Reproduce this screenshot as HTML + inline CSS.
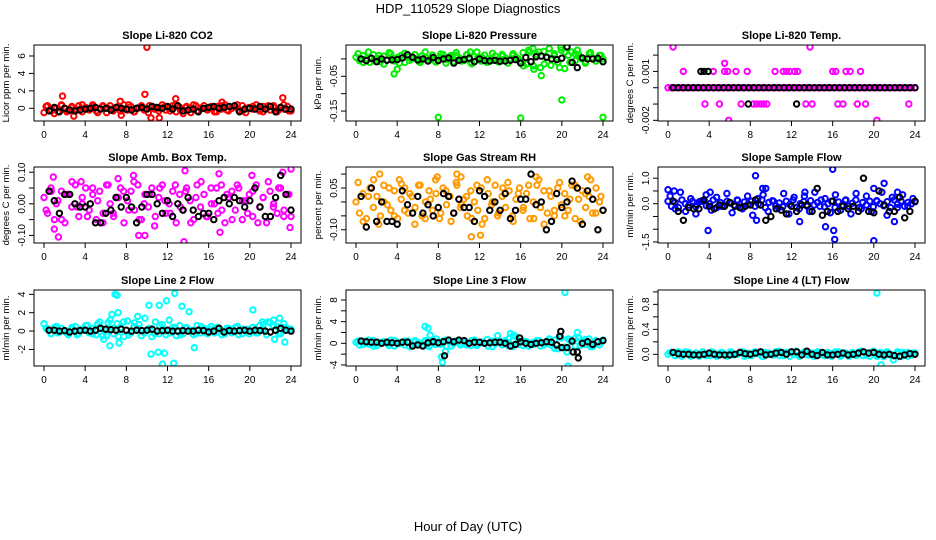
<!DOCTYPE html>
<html><head><meta charset="utf-8">
<style>
html,body{margin:0;padding:0;background:#fff;}
svg{display:block;font-family:"Liberation Sans",sans-serif;}
</style></head>
<body>
<svg id="chart" width="936" height="540" viewBox="0 0 936 540">
<text x="468" y="13" text-anchor="middle" font-size="13">HDP_110529  Slope Diagnostics</text>
<text x="468" y="531" text-anchor="middle" font-size="13">Hour of Day (UTC)</text>
</svg>
<script>
const xTicks = [0,4,8,12,16,20,24];

const co2Main = [-0.5,0.3,-0.2,0.1,-0.4,0.4,0.0,-0.3,0.2,-0.1,0.3,-0.4,0.1,-0.2,0.4,-0.3,0.0,0.2,-0.5,0.3,-0.1,0.1,-0.3,0.4,-0.2,0.2,-0.4,0.0,0.3,-0.1,-0.5,0.2,0.1,-0.3,0.4,-0.2,0.0,0.3,-0.4,0.1,-0.6,0.2,-0.1,0.4,-0.3,0.0,0.3,-0.2,0.1,-0.4,0.2,-0.1,0.4,-0.3,0.0,0.2,-0.2,0.3,-0.5,0.1,-0.1,0.4,-0.3,0.2,0.0,-0.2,0.3,-0.4,0.1,-0.1,0.2,-0.3];
const co2Main2 = [0.2,-0.3,0.0,0.3,-0.4,0.1,-0.2,0.4,-0.1,0.2,-0.5,0.3,0.0,-0.3,0.2,-0.1,0.4,-0.4,0.1,-0.2,0.3,-0.1,0.0,0.2,-0.3,0.4,-0.2,0.1,-0.5,0.3,0.0,-0.1,0.2,-0.4,0.3,-0.2,0.1,0.4,-0.3,0.0,0.2,-0.1,-0.4,0.3,0.1,-0.2,0.4,-0.3];
const co2Black = [-0.3,0.1,-0.4,0.0,-0.2,-0.3,-0.2,-0.1,0.0,0.1,-0.1,0.0,-0.2,0.1,0.0,-0.1,-0.2,0.0,0.1,-0.1,0.2,0.1,0.0,0.2,-0.1,0.3,-0.3,-0.2,-0.1,-0.4,0.0,0.1,0.2,0.0,0.1,0.2,0.3,-0.4,-0.1,0.0,-0.1,0.2,-0.1,0.2,-0.4,0.1,-0.1,-0.1];
const co2Out = [[10,7],[9.8,1.6],[1.8,1.4],[12.8,1.1],[23.2,1.2],[10.4,-1.1],[11.2,-1.1],[2.9,-0.9],[7.5,-0.8],[7.4,0.8],[17.3,0.7],[1,-0.6]];

const presMain = [0.005,-0.005,0.01,0.0,-0.01,0.012,0.002,-0.008,0.008,-0.003,0.014,-0.006,0.004,0.01,-0.01,0.006,0.0,0.012,-0.007,0.009,0.003,-0.004,0.011,-0.009,0.005,0.013,-0.002,0.007,-0.008,0.01,0.001,-0.005,0.012,-0.01,0.006,0.003,-0.006,0.011,0.0,-0.004,0.008,-0.009,0.013,0.002,-0.003,0.01,0.005,-0.007,0.018,-0.015,0.02,-0.02,0.012,-0.025,0.022,0.005,-0.018,0.015,-0.01,0.025,-0.028,0.01,0.02,-0.005,0.012,0.0,-0.008,0.015,0.003,-0.006,0.01,0.0];
const presMain2 = [0.015,-0.01,0.02,-0.005,0.01,-0.015,0.018,0.0,-0.012,0.016,-0.004,0.012,-0.01,0.02,0.002,-0.008,0.014,-0.012,0.01,0.018,-0.006,0.012,-0.014,0.02,0.004,-0.01,0.016,-0.003,0.008,-0.012,0.015,0.0,-0.02,0.025,-0.03,0.02,-0.015,0.03,0.01,-0.025,0.02,-0.01,0.015,0.005,-0.012,0.018,-0.006,0.01];
const presBlack = [0.0,-0.005,0.002,-0.008,0.0,-0.004,-0.003,-0.002,0.003,0.012,0.005,-0.003,0.0,-0.006,0.004,-0.005,0.0,0.003,-0.012,-0.004,-0.002,0.002,-0.008,0.0,-0.005,-0.006,-0.004,-0.007,-0.006,-0.004,-0.002,-0.012,0.004,-0.008,0.006,0.008,0.005,0.0,-0.002,0.002,0.035,-0.01,-0.025,0.003,0.0,0.0,0.002,-0.008];
const presOut = [[8,-0.168],[16,-0.17],[24,-0.168],[20,-0.118],[18,-0.048],[3.7,-0.043],[4,-0.03],[17.2,0.03],[19.9,0.033],[20.5,0.033],[11.1,0.02],[21.5,0.025]];

const tempMain = [0,0,0,0,0,0,0,0,0,0,0,0,0,0,0,0,0,0,0,0,0,0,0,0,0,0,0,0,0,0,0,0,0,0,0,0,0,0,0,0,0,0,0,0,0,0,0,0,0,0,0,0,0,0,0,0,0,0,0,0,0,0,0,0,0,0,0,0,0,0,0,0];
const tempBlack = [0,0,0,0,0,0,0,0,0,0,0,0,0,0,0,0,0,0,0,0,0,0,0,0,0,0,0,0,0,0,0,0,0,0,0,0,0,0,0,0,0,0,0,0,0,0,0,0,0];
const tempOut = [[1.5,0.001],[4.4,0.001],[5.5,0.001],[5.8,0.001],[6.6,0.001],[7.7,0.001],[10.4,0.001],[11.2,0.001],[11.5,0.001],[11.8,0.001],[12.3,0.001],[12.6,0.001],[16,0.001],[16.3,0.001],[17.3,0.001],[17.7,0.001],[18.7,0.001],[5.5,0.0015],[0.5,0.0025],[13.8,0.0025],[3.6,-0.001],[5,-0.001],[7.1,-0.001],[8.3,-0.001],[8.6,-0.001],[9,-0.001],[9.3,-0.001],[9.6,-0.001],[13.4,-0.001],[14,-0.001],[16.5,-0.001],[17,-0.001],[18.4,-0.001],[19.2,-0.001],[23.4,-0.001],[5.9,-0.002],[20.3,-0.002]];
const tempBlackOut = [[3.2,0.001],[3.5,0.001],[3.9,0.001],[7.8,-0.001],[12.5,-0.001]];

const boxMain = [0.02,-0.03,0.05,-0.05,0.01,0.04,-0.06,0.03,-0.01,0.06,-0.04,0.0,0.05,-0.02,0.03,-0.05,0.04,-0.03,0.06,0.0,-0.04,0.02,0.05,-0.06,0.01,0.04,-0.02,0.06,-0.05,0.03,-0.01,0.05,-0.04,0.02,0.06,-0.03,0.0,0.04,-0.06,0.03,-0.02,0.05,0.01,-0.05,0.06,-0.01,0.03,-0.04,0.05,0.0,-0.03,0.06,-0.06,0.02,0.04,-0.02,0.05,-0.05,0.01,0.03,-0.04,0.06,-0.01,0.02,-0.06,0.04,0.0,-0.03,0.05,-0.02,0.03,-0.04];
const boxMain2 = [-0.02,0.04,0.0,-0.05,0.03,0.07,-0.01,0.02,-0.04,0.05,0.01,-0.06,0.06,-0.03,0.02,0.04,-0.02,0.07,-0.05,0.0,0.03,-0.07,0.05,0.01,-0.03,0.06,-0.01,0.04,-0.06,0.02,0.07,-0.04,0.0,0.05,-0.02,0.03,-0.05,0.06,0.01,-0.03,0.04,-0.06,0.02,0.07,-0.01,0.05,-0.04,0.03];
const boxBlack = [0.04,0.01,-0.03,0.03,0.03,0.0,-0.01,-0.01,0.0,-0.06,-0.06,-0.03,-0.02,0.02,-0.01,0.02,-0.01,-0.06,-0.01,0.03,0.03,0.0,-0.03,0.01,-0.04,0.0,-0.02,0.02,-0.02,-0.04,-0.03,-0.03,-0.05,0.01,0.02,0.0,0.02,0.01,-0.01,0.01,0.05,-0.01,-0.04,-0.04,0.02,0.09,0.03,-0.02];
const boxOut = [[0.9,0.085],[1,-0.08],[1.4,-0.105],[9.2,-0.1],[9.8,-0.1],[8.7,0.09],[13.7,0.105],[13.6,-0.12],[17,0.095],[17.1,-0.09],[24,0.11],[23.9,-0.075],[20.2,0.09],[23.2,0.1],[3.6,0.07],[7.2,0.08]];

const rhMain = [0.0,-0.04,0.03,-0.06,0.05,-0.02,0.02,-0.05,0.06,-0.01,-0.03,0.04,-0.06,0.01,0.05,-0.04,0.02,-0.02,0.06,-0.05,0.0,0.04,-0.03,0.03,-0.06,0.05,-0.01,0.02,-0.04,0.06,-0.02,0.01,-0.05,0.04,0.0,-0.03,0.05,-0.06,0.03,-0.01,0.06,-0.04,0.02,-0.02,0.04,-0.05,0.01,0.05,-0.03,0.03,-0.06,0.0,0.06,-0.02,0.04,-0.04,0.02,-0.05,0.05,-0.01,0.03,-0.03,0.06,-0.06,0.01,0.04,-0.02,0.02,-0.04,0.05,0.0,-0.03];
const rhMain2 = [0.07,-0.07,0.02,0.08,-0.08,0.0,0.05,-0.05,0.08,-0.03,0.03,-0.08,0.06,-0.06,0.01,0.08,-0.04,0.04,-0.07,0.07,-0.01,0.02,-0.06,0.06,-0.08,0.08,0.0,-0.05,0.05,0.07,-0.07,0.03,-0.02,0.06,-0.06,0.08,-0.08,0.04,-0.03,0.07,-0.05,0.01,0.06,-0.07,0.03,0.08,-0.04,0.02];
const rhBlack = [0.02,-0.09,0.05,-0.07,0.0,-0.07,-0.07,-0.08,0.04,-0.01,-0.04,0.02,-0.04,-0.01,-0.05,-0.02,0.03,0.02,-0.04,0.01,-0.02,-0.02,-0.07,0.04,0.02,-0.03,0.0,-0.03,0.03,-0.06,-0.03,0.01,0.01,0.1,-0.01,0.0,-0.1,-0.07,0.03,-0.02,0.0,0.075,0.05,-0.08,0.04,0.01,-0.1,-0.03];
const rhOut = [[2.3,0.1],[12.1,-0.12],[11.2,-0.125],[17.5,0.09],[22.5,0.09],[10.2,0.09],[9.8,0.1],[4.4,0.065],[7.9,0.09]];

const flowMain = [0.1,-0.1,0.05,-0.15,0.15,0.0,-0.05,0.1,-0.12,0.08,0.12,-0.08,0.0,0.15,-0.15,0.05,-0.1,0.1,0.02,-0.05,0.13,-0.13,0.07,-0.02,0.1,-0.1,0.0,0.15,-0.15,0.05,0.12,-0.08,0.03,-0.12,0.1,-0.03,0.15,-0.15,0.0,0.08,-0.1,0.12,-0.05,0.05,0.15,-0.12,0.0,0.1,-0.15,0.07,-0.07,0.13,-0.1,0.02,0.15,-0.15,0.05,-0.05,0.1,-0.12,0.12,0.0,-0.08,0.08,-0.15,0.15,-0.02,0.1,-0.1,0.05,0.0,0.08];
const flowMain2 = [0.3,-0.2,0.45,-0.3,0.2,-0.4,0.1,0.35,-0.25,0.25,-0.1,0.4,-0.35,0.15,-0.2,0.3,-0.45,0.2,0.35,-0.3,0.1,-0.15,0.4,-0.4,0.25,-0.2,0.3,-0.3,0.45,-0.1,0.2,-0.35,0.35,-0.25,0.15,-0.4,0.4,-0.2,0.3,-0.3,0.1,0.45,-0.45,0.25,-0.15,0.35,-0.1,0.2];
const flowBlack = [0.1,-0.3,-0.65,-0.15,-0.2,-0.2,0.15,-0.1,-0.2,-0.05,-0.1,0.05,-0.1,-0.15,-0.1,-0.05,0.15,-0.05,-0.65,-0.5,-0.2,-0.25,-0.4,-0.1,-0.3,-0.05,-0.05,-0.3,0.6,-0.45,-0.3,0.1,-0.3,-0.1,-0.2,-0.1,-0.3,1.0,-0.3,-0.35,0.5,-0.05,-0.3,-0.3,0.25,-0.55,-0.3,0.1];
const flowOut = [[8.5,1.1],[16,1.35],[21,0.8],[20,0.6],[3.9,-1.05],[16.2,-1.4],[16.1,-1.05],[20,-1.45],[15.3,-0.9],[12.8,-0.7],[8.6,-0.65],[22.3,0.45],[9.5,0.6],[22,-0.7],[0,0.55],[0.6,0.5],[4.1,0.45],[9.2,0.6],[13.3,0.45]];

const line2Main = [0.8,0.2,-0.3,0.4,-0.2,0.3,0.0,-0.4,0.2,0.5,-0.3,0.1,0.6,-0.2,0.3,-0.4,1.0,0.2,-0.5,1.2,-0.3,0.8,0.4,-0.6,1.1,-0.2,0.9,0.3,-0.5,1.4,0.2,-0.6,1.0,-0.3,0.7,-0.4,1.2,0.4,-0.5,0.6,-0.3,0.4,0.1,-0.4,0.6,-0.2,0.3,-0.3,0.5,-0.2,0.4,0.0,-0.3,0.3,-0.2,0.4,-0.4,0.2,0.1,-0.3,0.4,-0.2,0.6,0.2,-0.4,0.9,1.2,0.5,-0.3,0.8,0.3,0.2];
const line2Main2 = [0.3,-0.3,0.5,0.0,-0.2,0.4,-0.4,0.2,0.6,-0.3,0.8,-0.5,0.9,0.3,-0.6,1.0,-0.4,0.5,0.7,-0.2,0.3,-0.3,0.6,0.0,-0.2,0.4,-0.4,0.3,0.1,-0.3,0.5,-0.2,0.2,0.4,-0.4,0.3,-0.1,0.5,-0.3,0.2,0.4,-0.2,0.7,1.0,0.6,-0.3,0.4,0.2];
const line2Black = [0.1,0.1,0.0,0.05,-0.1,0.0,0.05,0.1,0.0,0.1,0.3,0.2,0.15,0.1,0.2,0.1,0.0,0.1,0.05,0.1,0.2,0.0,0.05,0.1,0.0,0.0,0.05,0.0,0.0,0.1,0.05,-0.1,0.0,0.3,-0.1,0.05,0.0,0.05,0.1,0.0,0.1,0.05,0.0,-0.1,0.1,0.3,0.1,0.0];
const line2Out = [[6.9,4.0],[7.1,3.9],[12.7,4.1],[11.9,3.3],[11.2,2.8],[10.2,2.8],[13.4,2.7],[7.2,2.0],[9.1,1.6],[6.6,1.8],[14.1,2.1],[20.3,2.3],[10.4,-2.5],[11.1,-2.3],[11.7,-2.4],[11.5,-3.6],[12.6,-3.5],[6.4,-1.6],[7.3,-1.3],[14.6,-1.8],[23.4,-1.2],[22.4,-0.9],[5.8,-0.9],[22.9,1.4],[21.2,1.0]];

const line3Main = [0.2,-0.3,0.4,0.0,-0.2,0.5,-0.4,0.1,0.3,-0.1,0.6,-0.5,0.2,0.0,-0.3,0.4,-0.2,0.5,0.1,-0.4,0.3,-0.6,0.6,-0.2,0.0,0.4,-0.5,0.2,-0.1,0.5,-0.3,0.3,0.1,-0.4,0.6,-0.2,0.2,0.0,-0.5,0.4,-0.1,0.3,-0.3,0.5,0.9,-0.6,1.2,0.2,-0.4,0.3,0.0,-0.2,0.5,-0.5,0.1,0.4,-0.3,0.6,-1.0,1.0,-0.8,0.8,0.3,-0.5,1.0,0.5,-0.2,0.8,-0.6,0.4,-0.3,0.6];
const line3Main2 = [0.4,-0.2,0.6,-0.5,0.2,0.3,-0.4,0.5,-0.1,0.4,-0.6,0.2,0.0,0.5,-0.3,0.3,-0.2,0.6,-0.5,0.4,0.1,-0.3,0.5,-0.4,0.2,0.7,-0.6,1.4,0.3,-0.4,0.6,-0.2,0.4,-0.5,0.2,0.5,-0.3,0.8,-0.9,1.2,-0.7,0.6,0.9,-0.4,0.7,-0.6,0.5,0.2];
const line3Black = [0.4,0.3,0.2,0.2,0.0,0.2,0.1,0.0,0.2,0.2,-0.5,-0.3,-0.5,0.1,0.3,0.1,0.3,0.6,0.3,0.6,0.5,0.0,0.2,0.2,0.0,0.1,0.2,0.2,0.0,-0.5,-0.2,0.3,0.0,-0.2,0.0,0.1,0.3,0.2,-0.3,-0.8,-0.8,0.4,-1.6,0.0,0.3,-0.2,0.3,0.5];
const line3Out = [[20.3,9.4],[6.7,3.1],[7.0,2.8],[7.2,1.5],[8.3,-2.5],[8.4,-3.5],[8.7,-1.5],[20.6,-4.2],[20.5,-1.6],[15,1.8],[21.5,2],[7.8,0.8],[15.3,1.5]];
const line3BlackOut = [[8.6,-2.3],[21.6,-2.7],[19.9,2.2],[19.8,1.3],[21.1,-1.6],[15.9,1]];

const line4Main = [0.0,0.03,-0.02,0.04,-0.03,0.01,0.03,-0.01,0.02,-0.03,0.04,0.0,-0.02,0.03,-0.03,0.02,0.01,-0.02,0.04,-0.01,0.0,0.03,-0.03,0.02,-0.02,0.04,0.01,-0.03,0.03,0.0,-0.01,0.04,-0.02,0.02,0.03,-0.03,0.01,0.05,-0.02,0.03,-0.01,0.02,-0.03,0.04,0.0,-0.02,0.03,-0.03,0.02,0.04,-0.01,0.01,-0.03,0.03,0.0,0.04,-0.02,0.02,-0.03,0.05,-0.01,0.03,-0.04,0.02,0.0,-0.02,0.04,-0.03,0.01,0.03,-0.01,0.02];
const line4Main2 = [0.03,-0.02,0.01,0.04,-0.03,0.02,0.0,-0.02,0.04,-0.01,0.03,-0.03,0.02,0.0,0.04,-0.02,0.01,0.03,-0.03,0.02,-0.01,0.05,-0.02,0.03,0.0,-0.03,0.04,-0.01,0.02,0.03,-0.02,0.01,0.04,-0.03,0.02,0.0,-0.02,0.05,-0.01,0.03,-0.03,0.02,0.04,-0.02,0.01,0.03,-0.03,0.02];
const line4Black = [0.03,0.01,0.0,0.0,-0.01,-0.01,0.0,0.02,0.0,-0.01,-0.01,-0.01,0.0,0.03,0.01,0.0,0.02,0.04,-0.01,0.0,0.02,0.03,0.0,0.04,0.04,-0.01,0.05,0.0,-0.02,0.03,-0.01,-0.01,0.0,0.02,-0.01,0.0,0.02,0.04,0.02,0.03,0.0,-0.01,0.0,-0.02,-0.03,-0.01,0.01,0.0];
const line4Out = [[20.3,0.98],[20.7,-0.17],[21.9,-0.09]];

const panels = [
 {col:0,row:0,name:'co2',title:'Slope Li-820 CO2',ylab:'Licor ppm per min.',ylim:[-1.46,7.26],ticks:[0,2,4,6],labels:[0,2,4,6],fmt:v=>String(v),color:'#ff0000',main:[co2Main,co2Main2],black:co2Black,out:co2Out,bout:[]},
 {col:1,row:0,name:'pressure',title:'Slope Li-820 Pressure',ylab:'kPa per min.',ylim:[-0.1786,0.04],ticks:[0,-0.05,-0.1,-0.15],labels:[-0.05,-0.15],fmt:v=>v.toFixed(2),color:'#00ee00',main:[presMain,presMain2],black:presBlack,out:presOut,bout:[]},
 {col:2,row:0,name:'li820-temp',title:'Slope Li-820 Temp.',ylab:'degrees C per min.',ylim:[-0.00204,0.00262],ticks:[0.002,0.001,0,-0.001,-0.002],labels:[0.001,-0.002],fmt:v=>v.toFixed(3),color:'#ff00ff',main:[tempMain],black:tempBlack,out:tempOut,bout:tempBlackOut},
 {col:0,row:1,name:'box-temp',title:'Slope Amb. Box Temp.',ylab:'degrees C per min.',ylim:[-0.124,0.1166],ticks:[0.1,0.05,0,-0.05,-0.1],labels:[0.1,0,-0.1],fmt:v=>v.toFixed(2),color:'#ff00ff',main:[boxMain,boxMain2],black:boxBlack,out:boxOut,bout:[]},
 {col:1,row:1,name:'gas-rh',title:'Slope Gas Stream RH',ylab:'percent per min.',ylim:[-0.1475,0.1255],ticks:[0.1,0.05,0,-0.05,-0.1],labels:[0.05,-0.1],fmt:v=>v.toFixed(2),color:'#ff9a00',main:[rhMain,rhMain2],black:rhBlack,out:rhOut,bout:[]},
 {col:2,row:1,name:'sample-flow',title:'Slope Sample Flow',ylab:'ml/min per min.',ylim:[-1.54,1.44],ticks:[1,0.5,0,-0.5,-1,-1.5],labels:[1,0,-1.5],fmt:v=>v.toFixed(1),color:'#0000ff',main:[flowMain,flowMain2],black:flowBlack,out:flowOut,bout:[]},
 {col:0,row:2,name:'line2-flow',title:'Slope Line 2 Flow',ylab:'ml/min per min.',ylim:[-3.8,4.47],ticks:[4,2,0,-2],labels:[4,2,0,-2],fmt:v=>String(v),color:'#00ffff',main:[line2Main,line2Main2],black:line2Black,out:line2Out,bout:[]},
 {col:1,row:2,name:'line3-flow',title:'Slope Line 3 Flow',ylab:'ml/min per min.',ylim:[-4.19,9.84],ticks:[8,6,4,2,0,-2,-4],labels:[8,4,0,-4],fmt:v=>String(v),color:'#00ffff',main:[line3Main,line3Main2],black:line3Black,out:line3Out,bout:line3BlackOut},
 {col:2,row:2,name:'line4-flow',title:'Slope Line 4 (LT) Flow',ylab:'ml/min per min.',ylim:[-0.187,1.03],ticks:[0,0.2,0.4,0.6,0.8,1.0],labels:[0,0.4,0.8],fmt:v=>v.toFixed(1),color:'#00ffff',main:[line4Main,line4Main2],black:line4Black,out:line4Out,bout:[]}
];

const NS='http://www.w3.org/2000/svg';
const svg=document.getElementById('chart');
const colLeft=[34,346,658], rowTop=[45,167,290], W=267, H=76;
function mk(tag,attrs,parent){const e=document.createElementNS(NS,tag);for(const k in attrs)e.setAttribute(k,attrs[k]);(parent||svg).appendChild(e);return e;}

panels.forEach((p,pi)=>{
  const L=colLeft[p.col], T=rowTop[p.row], B=T+H, R=L+W;
  const g=mk('g',{});
  
  
  const xs=h=>L+10+h*(W-20)/24;
  const ys=v=>B-(v-p.ylim[0])/(p.ylim[1]-p.ylim[0])*H;
  const cid='clip'+pi;
  const cp=mk('clipPath',{id:cid},g); mk('rect',{x:L,y:T,width:W,height:H},cp);
  const t=mk('text',{x:(L+R)/2,y:T-6,'text-anchor':'middle','font-size':'11','font-weight':'bold'},g);
  t.textContent=p.title;
  
  
  const yl=mk('text',{x:0,y:0,'text-anchor':'middle','font-size':'9.5',transform:`translate(${L-25},${(T+B)/2}) rotate(-90)`},g);
  yl.textContent=p.ylab;
  
  
  xTicks.forEach(h=>{
    mk('line',{x1:xs(h),x2:xs(h),y1:B,y2:B+5,stroke:'#000','stroke-width':1},g);
    const tx=mk('text',{x:xs(h),y:B+17,'text-anchor':'middle','font-size':'10'},g);
    tx.textContent=h;
    
    
  });
  p.ticks.forEach(v=>{mk('line',{x1:L-5,x2:L,y1:ys(v),y2:ys(v),stroke:'#000','stroke-width':1},g);});
  p.labels.forEach(v=>{
    const ty=mk('text',{x:0,y:0,'text-anchor':'middle','font-size':'10',transform:`translate(${L-9},${ys(v)}) rotate(-90)`},g);
    ty.textContent=p.fmt(v);
    
    
  });
  const pts=mk('g',{'clip-path':`url(#${cid})`,fill:'none','stroke-width':2},g);
  
  
  const dot=(h,v,c)=>{const c1=mk('circle',{cx:xs(h).toFixed(1),cy:ys(v).toFixed(1),r:2.7,stroke:c},pts);
    
    };
  p.main.forEach((arr,ai)=>{
    arr.forEach((v,i)=>{const h=ai===0? i*24/(arr.length-1) : 0.2+i*23.6/(arr.length-1); dot(h,v,p.color);});
  });
  p.out.forEach(d=>dot(d[0],d[1],p.color));
  p.black.forEach((v,i)=>dot(0.5+i*23.5/(p.black.length-1),v,'#000'));
  p.bout.forEach(d=>dot(d[0],d[1],'#000'));
  const box=mk('rect',{x:L,y:T,width:W,height:H,fill:'none',stroke:'#000','stroke-width':1},g);
  
  
});
</script>
</body></html>
